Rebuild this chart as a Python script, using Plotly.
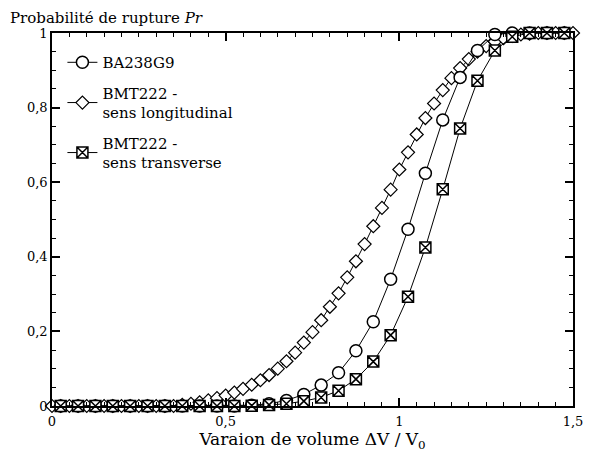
import plotly.graph_objects as go

# BA238G9 and BMT222 transverse: x step 0.05 starting at 0.025
x_cs = [0.025 + 0.05 * i for i in range(30)]
y_ba238 = [0, 0, 0, 0, 0, 0, 0, 0, 0, 0,
           0, 0.002, 0.006, 0.015, 0.031, 0.056, 0.089, 0.148, 0.226, 0.34,
           0.474, 0.624, 0.767, 0.881, 0.953, 0.996, 1, 1, 1, 1]
y_bmt_trans = [0, 0, 0, 0, 0, 0, 0, 0, 0, 0,
               0, 0.001, 0.003, 0.006, 0.013, 0.023, 0.041, 0.072, 0.119, 0.19,
               0.293, 0.425, 0.581, 0.744, 0.872, 0.953, 0.99, 1, 1, 1]

# BMT222 longitudinal: x step 0.025 from 0 to 1.5
x_long = [0.025 * i for i in range(61)]
y_bmt_long = [0, 0, 0, 0, 0, 0, 0, 0, 0, 0,
              0, 0, 0, 0, 0, 0.003, 0.006, 0.010, 0.015, 0.021,
              0.028, 0.036, 0.046, 0.057, 0.069, 0.083, 0.100, 0.120, 0.143, 0.170,
              0.198, 0.230, 0.266, 0.302, 0.345, 0.388, 0.434, 0.482, 0.531, 0.580,
              0.634, 0.680, 0.728, 0.772, 0.811, 0.847, 0.879, 0.906, 0.930, 0.950,
              0.965, 0.977, 0.986, 0.992, 0.996, 0.998, 1, 1, 1, 1, 1]

x_ticks = [0, 0.5, 1, 1.5]
x_ticktext = ["0", "0,5", "1", "1,5"]
y_ticks = [0, 0.2, 0.4, 0.6, 0.8, 1]
y_ticktext = ["0", "0,2", "0,4", "0,6", "0,8", "1"]

FONT = "DejaVu Serif"

fig = go.Figure()
fig.add_trace(go.Scatter(
    x=x_long, y=y_bmt_long, mode="lines+markers", cliponaxis=False,
    name="BMT222 -<br>sens longitudinal", legendgroup="b", legendrank=2,
    line=dict(color="black", width=1),
    marker=dict(symbol="diamond", size=10, color="white", line=dict(color="black", width=1.2))))
fig.add_trace(go.Scatter(
    x=x_cs, y=y_ba238, mode="lines+markers", cliponaxis=False,
    name="BA238G9", legendgroup="a", legendrank=1,
    line=dict(color="black", width=1),
    marker=dict(symbol="circle", size=12, color="white", line=dict(color="black", width=1.5))))
fig.add_trace(go.Scatter(
    x=x_cs, y=y_bmt_trans, mode="lines+markers", cliponaxis=False,
    name="BMT222 -<br>sens transverse", legendgroup="c", legendrank=3,
    line=dict(color="black", width=1),
    marker=dict(symbol="square-x", size=11, color="white", line=dict(color="black", width=1.5))))

axis_common = dict(
    showline=True, linecolor="black", linewidth=1.5, mirror="ticks",
    ticks="inside", ticklen=8, tickwidth=1.5, tickcolor="black",
    showgrid=False, zeroline=False, ticklabeloverflow="allow",
    tickfont=dict(family=FONT, size=13, color="black"),
)

# page body has an 8px margin; size the figure so the plot area lands where the reference has it
fig.update_layout(
    width=585, height=462,
    margin=dict(l=44, r=20, t=25, b=64, autoexpand=False),
    paper_bgcolor="white", plot_bgcolor="white",
    font=dict(family=FONT, size=14, color="black"),
    showlegend=True,
    legend=dict(x=0.02, y=0.965, xanchor="left", yanchor="top",
                bgcolor="rgba(0,0,0,0)", font=dict(family=FONT, size=15),
                traceorder="grouped", tracegroupgap=8, itemwidth=30),
    xaxis=dict(range=[0, 1.5], tickvals=x_ticks, ticktext=x_ticktext,
               minor=dict(dtick=0.05, ticks="inside", ticklen=4, tickwidth=1.2, tickcolor="black"),
               title=dict(text="Varaion de volume ΔV / V<sub>0</sub>", standoff=4,
                          font=dict(family=FONT, size=17)),
               ticklabelstandoff=3,
               **axis_common),
    yaxis=dict(range=[0, 1], tickvals=y_ticks, ticktext=y_ticktext,
               minor=dict(dtick=0.05, ticks="inside", ticklen=4, tickwidth=1.2, tickcolor="black"),
               **axis_common),
    annotations=[dict(text="Probabilité de rupture <i>Pr</i>", xref="paper", yref="paper",
                      x=-0.085, y=1.012, xanchor="left", yanchor="bottom", showarrow=False,
                      font=dict(family=FONT, size=15))],
)

fig.write_html("out.html")
